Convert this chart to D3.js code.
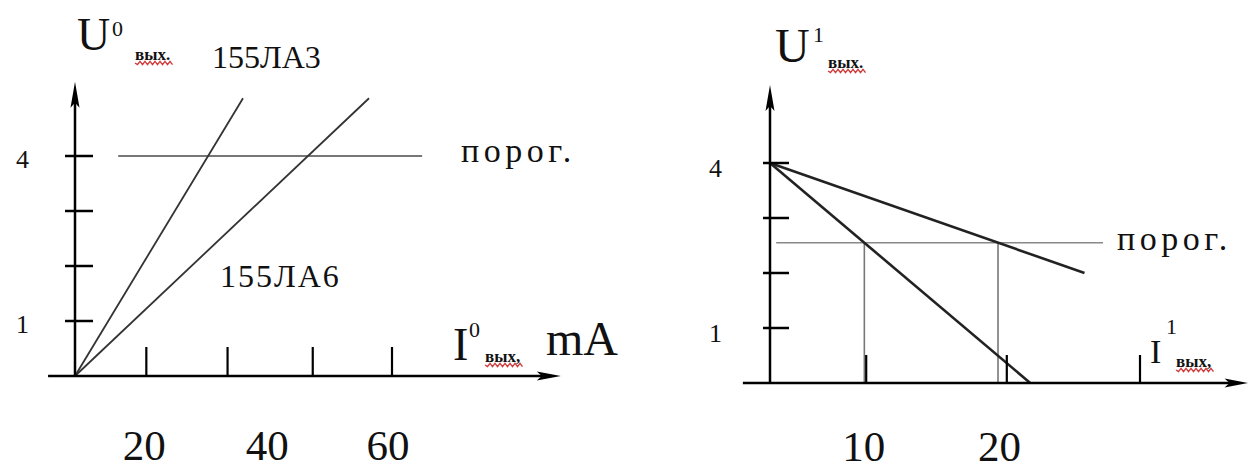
<!DOCTYPE html>
<html><head><meta charset="utf-8">
<script src="https://cdn.jsdelivr.net/npm/d3@7"></script>
<style>body{margin:0;background:#fff}svg{display:block}</style>
</head><body><svg id="c" width="1248" height="472"></svg>
<script>
// ---------- Left chart (U0 vs I0) ----------
const leftYTicks = [1, 2, 3, 4];
const leftYLabels = [4, 1];
const leftXTicks = [18, 38.5, 60, 80];
const leftXLabels = ["20", "40", "60"];
const leftXLabelAt = [17.5, 48.5, 79];
const leftSeriesNames = ["155ЛА3", "155ЛА6"];
const leftLA3 = [[0, 0], [42.4, 5.05]];
const leftLA6 = [[0, 0], [74.2, 5.05]];
const leftThreshold = 4;
const leftThresholdSpan = [10.9, 87.6];
const leftXAxisSpan = [-6.8, 122.6];
const leftYAxisTop = 5.35;

// ---------- Right chart (U1 vs I1) ----------
const rightYTicks = [1, 2, 3, 4];
const rightYLabels = [4, 1];
const rightXTicks = [7.8, 19.2, 30];
const rightXLabels = ["10", "20"];
const rightXLabelAt = [7.6, 18.6];
const rightSteep = [[0, 4], [21.1, 0]];
const rightShallow = [[0, 4], [25.5, 2.0]];
const rightThreshold = 2.55;
const rightThresholdSpan = [0.5, 27];
const rightXAxisSpan = [-2.2, 38.8];
const rightYAxisTop = 5.42;

const thresholdText = "порог.";

const svg = d3.select("#c");
svg.append("rect").attr("width", 1248).attr("height", 472).attr("fill", "#fff");

const SERIF = "'Liberation Serif','Times New Roman',serif";

function arrowUp(g, x, y) {
  g.append("path").attr("d", `M${x},${y} L${x-4.5},${y+26} L${x},${y+21} L${x+4.5},${y+26} Z`).attr("fill", "#000");
}
function arrowRight(g, x, y) {
  g.append("path").attr("d", `M${x},${y} L${x-24},${y-4.5} L${x-19},${y} L${x-24},${y+4.5} Z`).attr("fill", "#000");
}
function squiggle(g, textSel) {
  const b = textSel.node().getBBox();
  const y0 = b.y + b.height - 1;
  let d = `M${b.x},${y0}`;
  for (let x = b.x, i = 0; x < b.x + b.width; x += 2.5, i++) {
    d += ` L${x + 2.5},${y0 + (i % 2 ? -1.6 : 1.6)}`;
  }
  g.append("path").attr("d", d).attr("fill", "none").attr("stroke", "#d23a3a").attr("stroke-width", 1.4);
}
function label(g, x, y, text, size, family, extra) {
  const t = g.append("text").attr("x", x).attr("y", y).text(text)
    .attr("font-size", size).attr("font-family", family || SERIF).attr("fill", "#111");
  if (extra) extra(t);
  return t;
}
const thresholdStyle = t => t.attr("letter-spacing", 4.5).attr("font-weight", "normal");

// ======== LEFT ========
{
  const g = svg.append("g");
  const x = d3.scaleLinear().domain([0, 80]).range([75, 392]);
  const y = d3.scaleLinear().domain([0, 5]).range([376, 101]);
  const line = d3.line().x(d => x(d[0])).y(d => y(d[1]));

  g.append("line").attr("x1", x(leftThresholdSpan[0])).attr("x2", x(leftThresholdSpan[1]))
    .attr("y1", y(leftThreshold)).attr("y2", y(leftThreshold))
    .attr("stroke", "#777").attr("stroke-width", 2);

  [leftLA3, leftLA6].forEach(s => {
    g.append("path").attr("d", line(s)).attr("fill", "none").attr("stroke", "#333").attr("stroke-width", 1.8);
  });

  g.append("line").attr("x1", x(leftXAxisSpan[0])).attr("x2", x(leftXAxisSpan[1]) - 15)
    .attr("y1", y(0)).attr("y2", y(0)).attr("stroke", "#000").attr("stroke-width", 2.5);
  arrowRight(g, x(leftXAxisSpan[1]), y(0));
  g.append("line").attr("x1", x(0)).attr("x2", x(0)).attr("y1", y(0)).attr("y2", y(leftYAxisTop) + 15)
    .attr("stroke", "#000").attr("stroke-width", 2.5);
  arrowUp(g, x(0), y(leftYAxisTop));

  leftYTicks.forEach(v => {
    g.append("line").attr("x1", x(0) - 10).attr("x2", x(0) + 18).attr("y1", y(v)).attr("y2", y(v))
      .attr("stroke", "#000").attr("stroke-width", 2.5);
  });
  leftXTicks.forEach(v => {
    g.append("line").attr("x1", x(v)).attr("x2", x(v)).attr("y1", y(0)).attr("y2", y(0) - 29)
      .attr("stroke", "#000").attr("stroke-width", 2.2);
  });

  leftYLabels.forEach(v => {
    label(g, x(0) - 46, y(v) + 12, String(v), 26, SERIF, t => t.attr("text-anchor", "end"));
  });
  leftXLabels.forEach((t, i) => {
    label(g, x(leftXLabelAt[i]), y(0) + 84, t, 43, SERIF, s => s.attr("text-anchor", "middle"));
  });

  label(g, 212, 68, leftSeriesNames[0], 32);
  label(g, 220, 287, leftSeriesNames[1], 32, SERIF, t => t.attr("letter-spacing", 2));
  label(g, 461, 162, thresholdText, 34, SERIF, thresholdStyle);

  label(g, 77, 50, "U", 46);
  label(g, 112, 36, "0", 22);
  const s1 = label(g, 135, 60, "вых.", 17, SERIF, t => t.attr("font-weight", "bold"));
  squiggle(g, s1);

  label(g, 453, 360, "I", 46);
  label(g, 469, 337, "0", 22);
  const s2 = label(g, 485, 362, "вых,", 17, SERIF, t => t.attr("font-weight", "bold"));
  squiggle(g, s2);
  label(g, 546, 355, "mA", 48);
}

// ======== RIGHT ========
{
  const g = svg.append("g");
  const x = d3.scaleLinear().domain([0, 30]).range([770, 1140]);
  const y = d3.scaleLinear().domain([0, 5]).range([383, 108]);
  const line = d3.line().x(d => x(d[0])).y(d => y(d[1]));

  g.append("line").attr("x1", x(rightThresholdSpan[0])).attr("x2", x(rightThresholdSpan[1]))
    .attr("y1", y(rightThreshold)).attr("y2", y(rightThreshold))
    .attr("stroke", "#888").attr("stroke-width", 1.6);

  [rightSteep, rightShallow].forEach(s => {
    const [p0, p1] = s;
    const t = (rightThreshold - p0[1]) / (p1[1] - p0[1]);
    const xi = p0[0] + t * (p1[0] - p0[0]);
    g.append("line").attr("x1", x(xi)).attr("x2", x(xi)).attr("y1", y(rightThreshold)).attr("y2", y(0))
      .attr("stroke", "#777").attr("stroke-width", 1.6);
  });

  [rightSteep, rightShallow].forEach(s => {
    g.append("path").attr("d", line(s)).attr("fill", "none").attr("stroke", "#222").attr("stroke-width", 2.6);
  });

  g.append("line").attr("x1", x(rightXAxisSpan[0])).attr("x2", x(rightXAxisSpan[1]) - 15)
    .attr("y1", y(0)).attr("y2", y(0)).attr("stroke", "#000").attr("stroke-width", 2.5);
  arrowRight(g, x(rightXAxisSpan[1]), y(0));
  g.append("line").attr("x1", x(0)).attr("x2", x(0)).attr("y1", y(0)).attr("y2", y(rightYAxisTop) + 15)
    .attr("stroke", "#000").attr("stroke-width", 2.5);
  arrowUp(g, x(0), y(rightYAxisTop));

  rightYTicks.forEach(v => {
    g.append("line").attr("x1", x(0) - 7).attr("x2", x(0) + 19).attr("y1", y(v)).attr("y2", y(v))
      .attr("stroke", "#000").attr("stroke-width", 2.5);
  });
  rightXTicks.forEach(v => {
    g.append("line").attr("x1", x(v)).attr("x2", x(v)).attr("y1", y(0)).attr("y2", y(0) - 28)
      .attr("stroke", "#000").attr("stroke-width", 2.2);
  });

  rightYLabels.forEach(v => {
    label(g, x(0) - 48, y(v) + 14, String(v), 26, SERIF, t => t.attr("text-anchor", "end"));
  });
  rightXLabels.forEach((t, i) => {
    label(g, x(rightXLabelAt[i]), y(0) + 78, t, 43, SERIF, s => s.attr("text-anchor", "middle"));
  });

  label(g, 1117, 250, thresholdText, 34, SERIF, thresholdStyle);

  label(g, 775, 62, "U", 48);
  label(g, 813, 42, "1", 22);
  const s1 = label(g, 828, 68, "вых.", 17, SERIF, t => t.attr("font-weight", "bold"));
  squiggle(g, s1);

  label(g, 1150, 363, "I", 34);
  label(g, 1166, 334, "1", 22);
  const s2 = label(g, 1176, 367, "вых,", 17, SERIF, t => t.attr("font-weight", "bold"));
  squiggle(g, s2);
}
</script>
</body></html>
